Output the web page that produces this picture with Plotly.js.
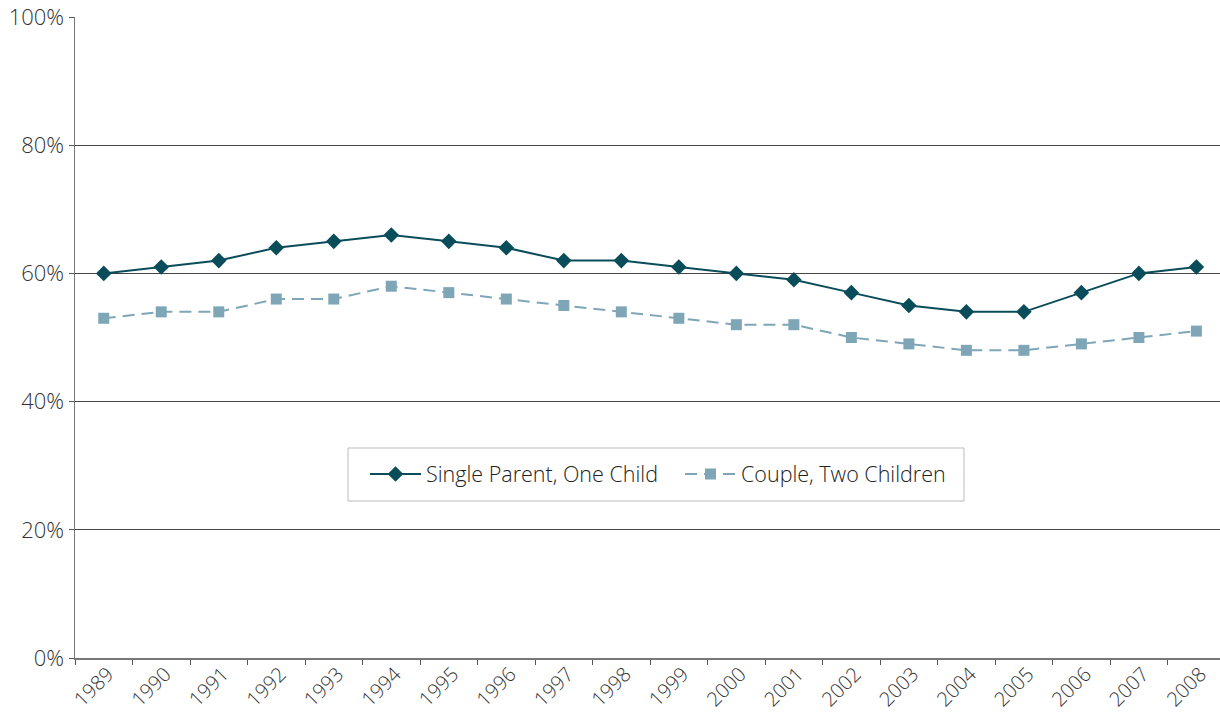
<!DOCTYPE html>
<html><head><meta charset="utf-8">
<script src="https://cdn.plot.ly/plotly-3.0.1.min.js"></script>
<style>html,body{margin:0;padding:0;background:#fff}#chart{width:1220px;height:712px}</style>
</head><body><div id="chart"></div>
<script>
const years = ['1989','1990','1991','1992','1993','1994','1995','1996','1997','1998','1999','2000','2001','2002','2003','2004','2005','2006','2007','2008'];
const singleParent = [60,61,62,64,65,66,65,64,62,62,61,60,59,57,55,54,54,57,60,61];
const couple = [53,54,54,56,56,58,57,56,55,54,53,52,52,50,49,48,48,49,50,51];
const yTicks = [0,20,40,60,80,100];
const yTickLabels = ['0%','20%','40%','60%','80%','100%'];

const traces = [
  {x: years, y: singleParent, name: 'Single Parent, One Child', type: 'scatter', mode: 'lines+markers',
   line: {color: '#0a4d5a', width: 2}, marker: {symbol: 'diamond', size: 12, color: '#0a4d5a'}},
  {x: years, y: couple, name: 'Couple, Two Children', type: 'scatter', mode: 'lines+markers',
   line: {color: '#7ea6b7', width: 2, dash: '12px,7px'}, marker: {symbol: 'square', size: 11, color: '#7ea6b7'}}
];
const FONT = '"Open Sans", Lato, sans-serif';
const layout = {
  width: 1220, height: 712,
  margin: {l: 75, r: 0, t: 17, b: 54},
  paper_bgcolor: '#fff', plot_bgcolor: '#fff',
  font: {family: FONT, size: 20, color: '#333', weight: 300},
  showlegend: true,
  legend: {x: (365-75)/1145, y: 0.287, xanchor: 'left', yanchor: 'middle', orientation: 'h',
    borderwidth: 0, bgcolor: 'rgba(0,0,0,0)', entrywidth: 249, itemwidth: 51,
    font: {family: FONT, size: 21.5, color: '#222', weight: 300}},
  shapes: [{type: 'rect', xref: 'paper', yref: 'paper', x0: (348-75)/1145, x1: (964-75)/1145,
    y0: (658-501)/641, y1: (658-448)/641, line: {color: '#bbb', width: 1}, fillcolor: '#fff', layer: 'above'}],
  xaxis: {type: 'category', range: [-0.5, 19.41], tickangle: -45, ticks: 'outside', tickson: 'boundaries',
    ticklen: 5, tickcolor: '#555', showline: true, linecolor: '#777', linewidth: 1.5,
    ticklabelstandoff: -5, ticklabelshift: 4,
    showgrid: false, zeroline: false, tickfont: {family: FONT, size: 20, color: '#333', weight: 300}},
  yaxis: {range: [0, 100], tickvals: yTicks, ticktext: yTickLabels, ticks: 'outside', ticklen: 5,
    tickcolor: '#555', showline: true, linecolor: '#777', linewidth: 1.5, showgrid: true,
    gridcolor: '#444', gridwidth: 1, zeroline: false, tickfont: {family: FONT, size: 22, color: '#333', weight: 300}}
};
Plotly.newPlot('chart', traces, layout, {displayModeBar: false, staticPlot: true});
</script></body></html>
